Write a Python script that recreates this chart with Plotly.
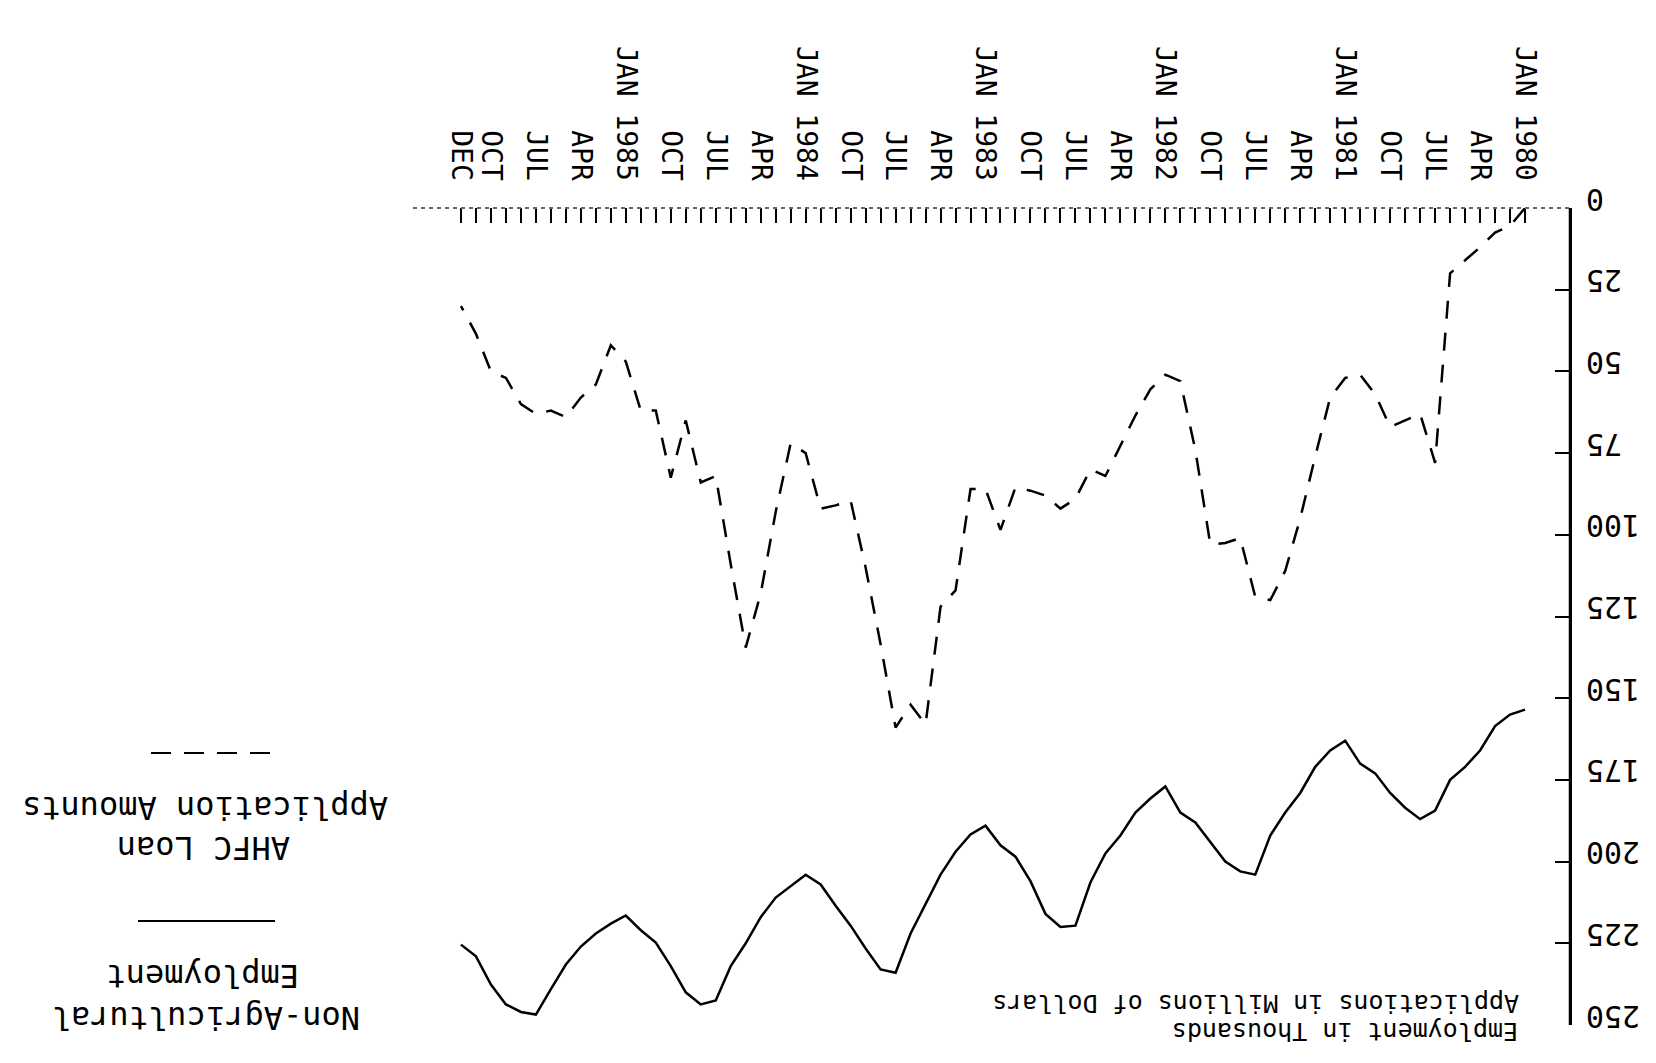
import plotly.graph_objects as go

# ---------------- data ----------------
MON = ["JAN", "FEB", "MAR", "APR", "MAY", "JUN", "JUL", "AUG", "SEP", "OCT", "NOV", "DEC"]
YEARS = [1980, 1981, 1982, 1983, 1984, 1985]
months = [f"{m} {y}" for y in YEARS for m in MON]

# Non-Agricultural Employment (thousands), monthly Jan 1980 - Dec 1985
employment = [153.5, 155, 158.5, 166, 171, 175, 184.4, 187, 183.5, 179, 173, 170,
              163, 166, 171, 179, 185, 192, 204, 203, 200, 194, 188, 185,
              177, 180.7, 185, 192, 197.5, 206.4, 219.6, 220, 216, 206, 198.5, 195,
              189, 191.7, 197, 204, 213, 222, 234, 233, 226.6, 219.6, 213.5, 207,
              204, 207.6, 211, 217, 225, 232, 242.5, 243.7, 240, 232, 224.8, 221,
              216.5, 219, 222, 226, 231.5, 239, 246.8, 246, 243.7, 237.6, 229, 225.4]

# AHFC Loan Application Amounts (millions of dollars)
loan_apps = [0, 5.5, 7.5, 12, 16, 20, 78, 63, 65, 67, 57, 51,
             52, 58, 76, 95, 111, 120, 119, 101, 102.5, 103, 74, 53,
             51, 55.5, 63.5, 73, 82, 80, 89, 92, 88, 86.5, 85.5, 98.5,
             86, 86, 117, 122, 158, 152, 159, 133.5, 110, 89.5, 91, 92,
             75, 72, 93, 118, 134.5, 109, 82, 84, 65, 82.5, 62, 62,
             47, 42, 54, 58, 64, 62, 63, 60, 52, 50, 38.5, 30]

# tick labels (every quarter, plus the final month)
tick_text = []
for i, m in enumerate(months):
    mon, yr = m.split()
    if mon == "JAN":
        tick_text.append(f"JAN {yr}")
    elif mon in ("APR", "JUL", "OCT"):
        tick_text.append(mon)
    elif i == len(months) - 1:
        tick_text.append(mon)
    else:
        tick_text.append("")

y_ticks = [0, 25, 50, 75, 100, 125, 150, 175, 200, 225, 250]
# pad with non-breaking spaces so the upside-down labels line up on their left edge
y_tick_text = [str(v).rjust(3, "\u00a0") for v in y_ticks]

# ---------------- layout geometry ----------------
W, H = 1656, 1063
L, R, T, B = 405, 1562, 200, 1017
FONT = "DejaVu Sans Mono"


def px(x):
    return (x - L) / (R - L)


def py(y):
    return (B - y) / (B - T)


fig = go.Figure()
fig.add_trace(go.Scatter(x=months, y=employment, mode="lines",
                         line=dict(color="black", width=2.5),
                         name="Non-Agricultural Employment"))
fig.add_trace(go.Scatter(x=months, y=loan_apps, mode="lines",
                         line=dict(color="black", width=2.5, dash="18px,14px"),
                         name="AHFC Loan Application Amounts"))

fig.update_layout(
    width=W, height=H,
    margin=dict(l=L, r=W - R, t=T, b=H - B),
    paper_bgcolor="white", plot_bgcolor="white",
    showlegend=False,
    font=dict(family=FONT, color="black"),
)

fig.update_xaxes(
    type="category", categoryorder="array", categoryarray=months,
    range=[74.2, -3.0], side="top",
    tickmode="array", tickvals=months, ticktext=tick_text,
    tickangle=90, ticks="inside", ticklen=15, tickwidth=2, tickcolor="black",
    tickfont=dict(family=FONT, size=28, color="black"),
    ticklabelstandoff=22,
    showline=False, showgrid=False, zeroline=False,
)

fig.update_yaxes(
    range=[250, 0], side="right",
    tickmode="array", tickvals=y_ticks, ticktext=y_tick_text,
    tickangle=180, ticks="inside", ticklen=15, tickwidth=2, tickcolor="black",
    tickfont=dict(family=FONT, size=30, color="black"),
    ticklabelstandoff=62,
    showline=True, linecolor="black", linewidth=2,
    showgrid=False, zeroline=False,
)

# dashed base line at the top (value 0)
fig.add_shape(type="line", xref="paper", yref="paper", x0=0, x1=1, y0=1, y1=1,
              line=dict(color="#666666", width=2, dash="4px,4px"))
# solid vertical axis line on the right
fig.add_shape(type="line", xref="paper", yref="paper", x0=1, x1=1, y0=0, y1=1,
              line=dict(color="black", width=2.5))

# legend keys (upside-down page)
fig.add_shape(type="line", xref="paper", yref="paper",
              x0=px(130), x1=px(267), y0=py(913), y1=py(913),
              line=dict(color="black", width=2))
fig.add_shape(type="line", xref="paper", yref="paper",
              x0=px(143), x1=px(267), y0=py(745), y1=py(745),
              line=dict(color="black", width=2, dash="20px,13px"))

ann = [
    ("Non-Agricultural", 198, 1010, 32),
    ("Employment", 195, 968, 32),
    ("AHFC Loan", 196, 840, 32),
    ("Application Amounts", 197, 800, 32),
    ("Applications in Millions of Dollars", 1248, 996, 25),
    ("Employment in Thousands", 1337, 1024, 25),
]
for text, x, y, size in ann:
    fig.add_annotation(text=text, xref="paper", yref="paper", x=px(x), y=py(y),
                       xanchor="center", yanchor="middle", showarrow=False,
                       textangle=180, font=dict(family=FONT, size=size, color="black"))

fig.write_html("out.html")
